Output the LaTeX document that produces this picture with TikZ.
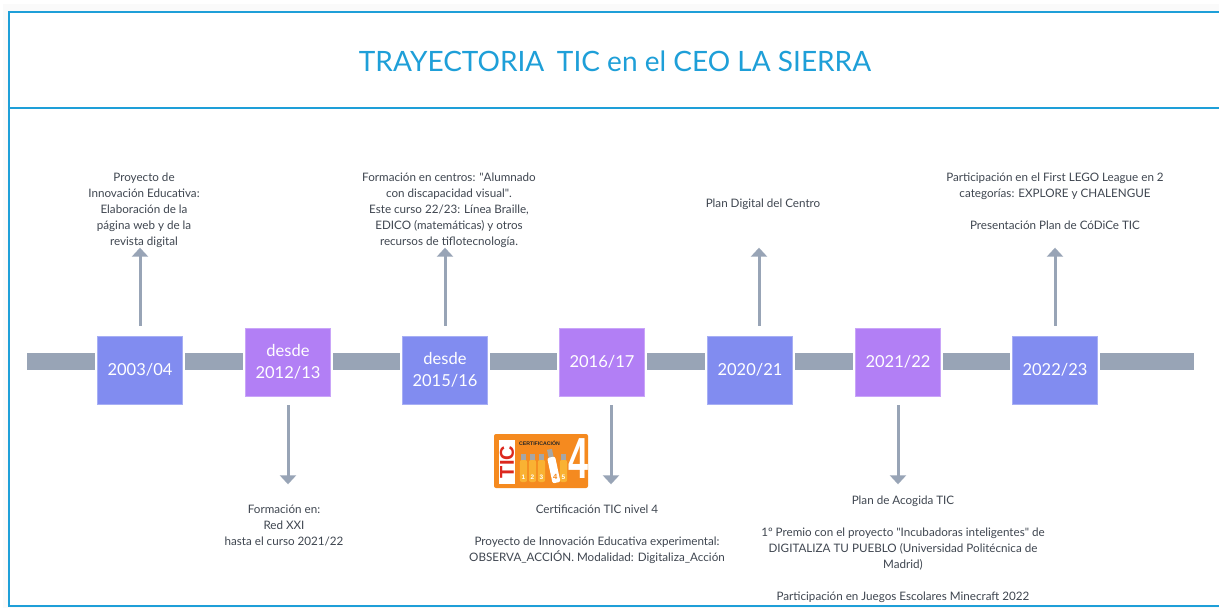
\documentclass[tikz,border=0pt]{standalone}
\usepackage{fontspec}
\setmainfont{Lato}
\newfontfamily\logofont{Liberation Sans}
\newfontfamily\sqfont{Lato}
\usetikzlibrary{arrows.meta}
\definecolor{frameblue}{HTML}{1E9FD8}
\definecolor{bar}{HTML}{98A4B6}
\definecolor{boxblue}{HTML}{818CF0}
\definecolor{boxpurple}{HTML}{B27FF5}
\definecolor{txt}{HTML}{3F4650}
\definecolor{logoorange}{HTML}{F58A1F}
\definecolor{usb}{HTML}{F9B233}
\definecolor{ticred}{HTML}{DC281E}
\newcommand{\sq}{{\sqfont\char34 }}
\tikzset{
 yearbox/.style={minimum width=85.4pt,minimum height=68pt,inner sep=0pt,text=white,font=\fontsize{16.5}{22}\selectfont,align=center},
 yblue/.style={yearbox,fill=boxblue,draw=boxblue!70!white,line width=.6pt},
 ypurple/.style={yearbox,fill=boxpurple,draw=boxpurple!70!white,line width=.6pt},
 seg/.style={draw=bar,line width=17pt},
 arrowline/.style={draw=bar,line width=3pt,-{Triangle[width=16pt,length=9pt]}},
 note/.style={text=txt,font=\fontsize{11.65}{16}\selectfont,align=center,inner sep=0pt},
 usbbody/.style={fill=usb,rounded corners=2pt},
 usbtop/.style={fill=gray!70,draw=none}
}
\begin{document}
\begin{tikzpicture}[x=1pt,y=-1pt]
\useasboundingbox (0,0) rectangle (1219,608);
\fill[white] (0,0) rectangle (1219,608);
\fill[black!2] (3,4) rectangle (1219,608);
\fill[white] (9,12) rectangle (1219,606);
\draw[frameblue,line width=1.8pt] (1219,12) -- (9,12) -- (9,606) -- (1219,606);
\draw[frameblue,line width=1.8pt] (9,108) -- (1219,108);
\node[text=frameblue,font=\fontsize{28}{34}\selectfont,inner sep=0pt] (title) at (615,61) {TRAYECTORIA\hspace{.45em}TIC en el CEO LA SIERRA};

\node[yblue] (y1) at (140,370) {2003/04};
\node[ypurple] (y2) at (288,362) {desde\\2012/13};
\node[yblue] (y3) at (445,370) {desde\\2015/16};
\node[ypurple] (y4) at (602,362) {2016/17};
\node[yblue] (y5) at (750,370) {2020/21};
\node[ypurple] (y6) at (898,362) {2021/22};
\node[yblue] (y7) at (1055,370) {2022/23};

\coordinate (barstart) at (27,361.5);
\coordinate (barend) at (1194,361.5);
\draw[seg] (barstart) -- ([xshift=-2pt]y1.west |- barstart);
\draw[seg] ([xshift=2pt]y1.east |- barstart) -- ([xshift=-2pt]y2.west |- barstart);
\draw[seg] ([xshift=2pt]y2.east |- barstart) -- ([xshift=-2pt]y3.west |- barstart);
\draw[seg] ([xshift=2pt]y3.east |- barstart) -- ([xshift=-2pt]y4.west |- barstart);
\draw[seg] ([xshift=2pt]y4.east |- barstart) -- ([xshift=-2pt]y5.west |- barstart);
\draw[seg] ([xshift=2pt]y5.east |- barstart) -- ([xshift=-2pt]y6.west |- barstart);
\draw[seg] ([xshift=2pt]y6.east |- barstart) -- ([xshift=-2pt]y7.west |- barstart);
\draw[seg] ([xshift=2pt]y7.east |- barstart) -- (barend);

\node[note] (n1) at (144,210) {Proyecto de\\Innovación Educativa:\\Elaboración de la\\página web y de la\\revista digital};
\node[note] (n3) at (449,210.5) {Formación en centros: \sq Alumnado\\con discapacidad visual\sq .\\Este curso 22/23: Línea Braille,\\EDICO (matemáticas) y otros\\recursos de tiflotecnología.};
\node[note] (n5) at (763,204) {Plan Digital del Centro};
\node[note] (n7) at (1055,201.5) {Participación en el First LEGO League en 2\\categorías: EXPLORE y CHALENGUE\\[16pt]Presentación Plan de CóDiCe TIC};
\node[note] (n2) at (284,526) {Formación en:\\Red XXI\\hasta el curso 2021/22};
\node[note] (n4) at (597,534.5) {Certificación TIC nivel 4\\[16pt]Proyecto de Innovación Educativa experimental:\\OBSERVA\_ACCIÓN. Modalidad: Digitaliza\_Acción};
\node[note] (n6) at (903,549) {Plan de Acogida TIC\\[16pt]1º Premio con el proyecto \sq Incubadoras inteligentes\sq{} de\\DIGITALIZA TU PUEBLO (Universidad Politécnica de\\Madrid)\\[16pt]Participación en Juegos Escolares Minecraft 2022};

\draw[arrowline] ([yshift=10pt]y1.north) -- ++(0,-78);
\draw[arrowline] ([yshift=10pt]y3.north) -- ++(0,-78);
\draw[arrowline] ([xshift=9pt,yshift=10pt]y5.north) -- ++(0,-78);
\draw[arrowline] ([yshift=10pt]y7.north) -- ++(0,-78);
\draw[arrowline] ([yshift=-9pt]y2.south) -- ++(0,79);
\draw[arrowline] ([xshift=9pt,yshift=-9pt]y4.south) -- ++(0,79);
\draw[arrowline] ([yshift=-9pt]y6.south) -- ++(0,79);

% certification logo
\fill[logoorange,rounded corners=2pt] (494,434) rectangle (588,488);
\fill[white] (499,440) rectangle (515,484);
\node[rotate=90,text=ticred,font=\logofont\bfseries\fontsize{20}{20}\selectfont,inner sep=0pt] (logotic) at (507,462) {TIC};
\node[font=\logofont\bfseries\fontsize{5.2}{6}\selectfont,text=black!85,inner sep=0pt] (logocert) at (539.5,443) {CERTIFICACIÓN};
\foreach \x/\n in {523.5/1,532.5/2,541.5/3,563.5/5}{
  \fill[usbtop] (\x-2.5,454) rectangle (\x+2.5,461);
  \fill[usbbody] (\x-3.6,460) rectangle (\x+3.6,482);
  \node[text=white,font=\logofont\bfseries\fontsize{6.5}{7}\selectfont,inner sep=0pt] at (\x,477) {\n};
}
\begin{scope}[rotate around={12:(553,466)}]
  \fill[usbtop] (553-2.5,449) rectangle (553+2.5,458);
  \fill[white,rounded corners=2pt] (553-4,457) rectangle (553+4,483);
  \node[text=logoorange,font=\logofont\bfseries\fontsize{7.5}{8}\selectfont,inner sep=0pt] at (553,477) {4};
\end{scope}
\node[text=white,font=\logofont\bfseries\fontsize{58}{58}\selectfont,inner sep=0pt,xscale=.62] (logofour) at (578,459) {4};
\end{tikzpicture}
\end{document}
